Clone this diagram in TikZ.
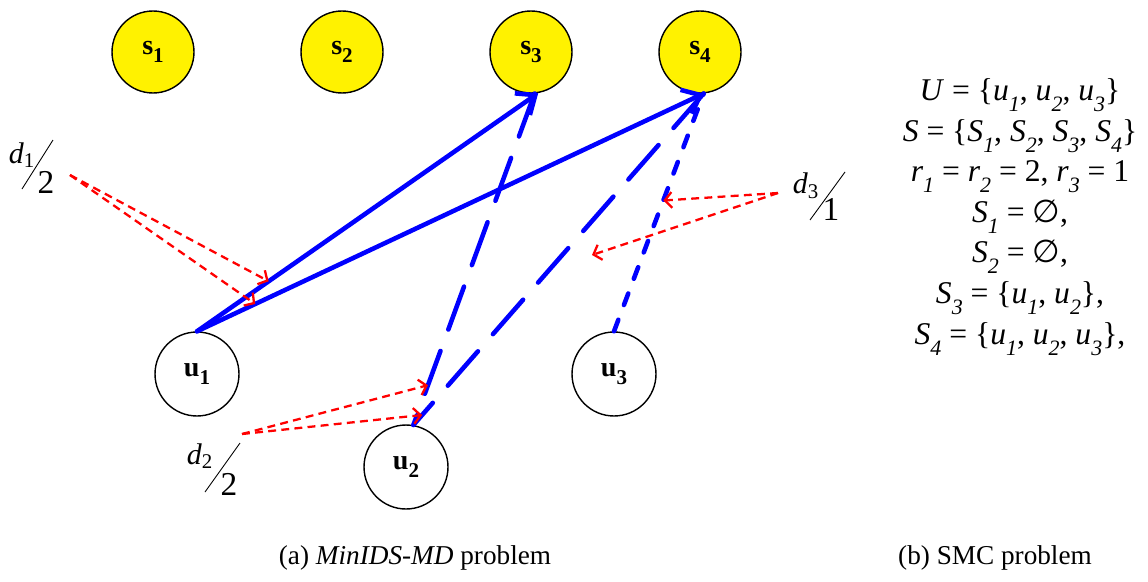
\documentclass[tikz,border=0pt]{standalone}
\usepackage{fontspec}
\setmainfont{Liberation Serif}
\newfontfamily\symfont{DejaVu Sans}
\usetikzlibrary{arrows.meta}

\newcommand{\lsub}[1]{\raisebox{-.35em}{\fontsize{12.5}{12.5}\selectfont\textit{#1}}}
\newcommand{\bsub}[1]{\raisebox{-.3em}{\fontsize{12}{12}\selectfont\textbf{#1}}}

\tikzset{
  setnode/.style={circle, draw, line width=.8pt, fill=yellow, minimum size=1.64cm, inner sep=0pt,
    font=\fontsize{16}{16}\selectfont\bfseries},
  elemnode/.style={circle, draw, line width=.8pt, fill=white, minimum size=1.68cm, inner sep=0pt,
    font=\fontsize{16}{16}\selectfont\bfseries},
  cover/.style={blue, line width=2.6pt, line cap=round},
  demand/.style={red, line width=1.3pt, dash pattern=on 4.5pt off 3pt,
    -{Straight Barb[length=4pt,width=9pt]}},
  dlabel/.style={inner sep=0pt, font=\fontsize{17}{17}\selectfont},
}

\begin{document}
\begin{tikzpicture}[x=.02cm, y=-.02cm]
\useasboundingbox (0,0) rectangle (1148,581);

% sets
\node[setnode] (s1) at (153,52) {s\bsub{1}};
\node[setnode] (s2) at (342,52) {s\bsub{2}};
\node[setnode] (s3) at (531,52) {s\bsub{3}};
\node[setnode] (s4) at (700,52) {s\bsub{4}};

% elements
\node[elemnode] (u1) at (197,374) {u\bsub{1}};
\node[elemnode] (u2) at (406,467) {u\bsub{2}};
\node[elemnode] (u3) at (614,374) {u\bsub{3}};

% covering edges
\draw[cover, -{Straight Barb[length=9pt,width=15pt]}] (u1.north) -- (s3.-80);
\draw[cover, -{Straight Barb[length=9pt,width=15pt]}] (u1.north) -- (s4.-85);
\draw[cover, dash pattern=on 26pt off 13pt] (s3.-85) -- (u2.80);
\draw[cover, dash pattern=on 26pt off 13pt] (s4.-85) -- (u2.80);
\draw[cover, dash pattern=on 7pt off 9pt] (u3.north) -- (s4.-85);

% targets of the demand arrows
\path (u1.north) -- (s3.-80) coordinate[pos=.21] (t1a);
\path (u1.north) -- (s4.-85) coordinate[pos=.115] (t1b);
\path (s3.-85) -- (u2.80) coordinate[pos=.88] (t2a);
\path (s4.-85) -- (u2.80) coordinate[pos=.97] (t2b);
\path (u3.north) -- (s4.-85) coordinate[pos=.55] (t3a);
\coordinate (t3b) at (592,255);

% demand labels
\node[dlabel] (d1n) at (22,155) {\textit{d}\textsubscript{1}};
\node[dlabel] (d1d) at (46,182) {\fontsize{19}{19}\selectfont 2};
\draw[line width=.5pt] (22,189) -- (53,140);
\node[dlabel] (d2n) at (200,456) {\textit{d}\textsubscript{2}};
\node[dlabel] (d2d) at (229,484) {\fontsize{19}{19}\selectfont 2};
\draw[line width=.5pt] (205,492) -- (240,443);
\node[dlabel] (d3n) at (806,186) {\textit{d}\textsubscript{3}};
\node[dlabel] (d3d) at (831,209) {\fontsize{19}{19}\selectfont 1};
\draw[line width=.5pt] (810,220) -- (845,172);

\coordinate (d1s) at (70,175);
\coordinate (d2s) at (242,434);
\coordinate (d3s) at (778,193);
\draw[demand] (d1s) -- (t1a);
\draw[demand] (d1s) -- (t1b);
\draw[demand] (d2s) -- (t2a);
\draw[demand] (d2s) -- (t2b);
\draw[demand] (d3s) -- (t3a);
\draw[demand] (d3s) -- (t3b);

% SMC instance
\node[align=center, inner sep=0pt, font=\fontsize{18}{23.1}\selectfont] (smc) at (1020,217) {%
\textit{U} = \{\textit{u}\lsub{1}, \textit{u}\lsub{2}, \textit{u}\lsub{3}\}\\
\textit{S} = \{\textit{S}\lsub{1}, \textit{S}\lsub{2}, \textit{S}\lsub{3}, \textit{S}\lsub{4}\}\\
\textit{r}\lsub{1} = \textit{r}\lsub{2} = 2, \textit{r}\lsub{3} = 1\\
\textit{S}\lsub{1} = {\symfont ∅},\\
\textit{S}\lsub{2} = {\symfont ∅},\\
\textit{S}\lsub{3} = \{\textit{u}\lsub{1}, \textit{u}\lsub{2}\},\\
\textit{S}\lsub{4} = \{\textit{u}\lsub{1}, \textit{u}\lsub{2}, \textit{u}\lsub{3}\},};

% captions
\node[font=\fontsize{15.5}{16}\selectfont] (capa) at (415,558) {(a) \textit{MinIDS-MD} problem};
\node[font=\fontsize{15.5}{16}\selectfont] (capb) at (995,558) {(b) SMC problem};
\end{tikzpicture}
\end{document}
